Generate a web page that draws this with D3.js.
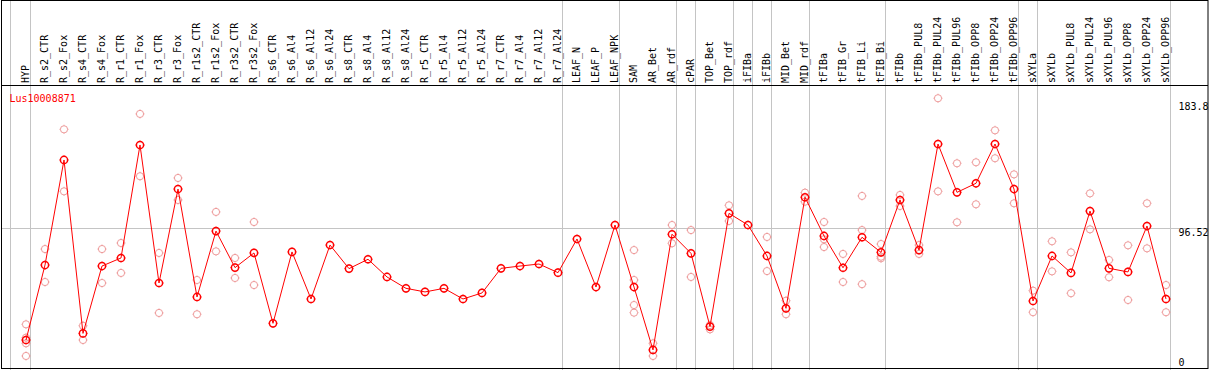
<!DOCTYPE html>
<html><head><meta charset="utf-8">
<script src="https://cdn.jsdelivr.net/npm/d3@7"></script>
<style>body{margin:0;background:#fff}svg{display:block}text{font-family:"DejaVu Sans Mono",monospace;font-size:10px}</style>
</head><body>
<script>
const title = "Lus10008871";
const categories = ["HYP","R_s2_CTR","R_s2_Fox","R_s4_CTR","R_s4_Fox","R_r1_CTR","R_r1_Fox","R_r3_CTR","R_r3_Fox","R_r1s2_CTR","R_r1s2_Fox","R_r3s2_CTR","R_r3s2_Fox","R_s6_CTR","R_s6_Al4","R_s6_Al12","R_s6_Al24","R_s8_CTR","R_s8_Al4","R_s8_Al12","R_s8_Al24","R_r5_CTR","R_r5_Al4","R_r5_Al12","R_r5_Al24","R_r7_CTR","R_r7_Al4","R_r7_Al12","R_r7_Al24","LEAF_N","LEAF_P","LEAF_NPK","SAM","AR_Bet","AR_rdf","cPAR","TOP_Bet","TOP_rdf","iFIBa","iFIBb","MID_Bet","MID_rdf","tFIBa","tFIB_Gr","tFIB_Li","tFIB_Bi","tFIBb","tFIBb_PUL8","tFIBb_PUL24","tFIBb_PUL96","tFIBb_OPP8","tFIBb_OPP24","tFIBb_OPP96","sXYLa","sXYLb","sXYLb_PUL8","sXYLb_PUL24","sXYLb_PUL96","sXYLb_OPP8","sXYLb_OPP24","sXYLb_OPP96"];
const means = [18.9,71.0,144.0,23.5,70.3,75.9,154.4,58.5,123.8,48.8,94.6,69.2,79.4,30.5,80.1,47.4,84.9,68.5,75.0,62.7,54.8,52.3,54.8,47.4,51.6,68.7,70.3,71.7,65.7,89.1,55.7,98.8,55.7,12.0,92.4,79.1,28.2,106.9,98.8,77.3,40.9,118.1,91.2,69.1,90.3,79.8,116.2,81.4,155.1,121.5,127.8,155.1,123.8,46.0,77.3,65.5,108.5,68.7,66.2,98.1,47.4];
const replicates = [[29.8,20.5,16.6,7.8],[82.1,59.2],[165.3,122.2],[28.8,18.9],[82.1,58.5],[86.3,65.5],[176.0,132.7],[79.4,37.7],[131.5,116.2],[60.6,36.8],[107.9,80.5],[75.9,62.0],[100.9,57.1],
[],[],[],[],[],[],[],[],[],[],[],[],[],[],[],[],[],[],[],
[81.4,60.6,43.2,37.9],[16.6,7.8],[98.8,86.1],[95.3,62.7],[29.3,26.3],[112.5,101.6],[],[90.5,66.8],[46.2,36.8],[121.3,115.0],[100.9,88.9,83.5],[78.7,59.2],[119.0,95.3,57.7],[85.6,76.8,75.7],[119.7,112.0],[84.9,78.7],[186.9,122.2],[141.7,100.7],[142.4,113.2],[164.6,145.2],[134.0,113.9],[53.2,38.2],[87.5,66.6],[79.8,51.4],[120.8,95.8],[74.5,62.5],[84.7,46.7],[113.9,82.6],[57.1,38.2]];
const groupEnds = ["HYP","R_r7_Al24","LEAF_NPK","AR_rdf","cPAR","TOP_rdf","iFIBa","iFIBb","MID_rdf","tFIB_Bi","tFIBb_OPP96","sXYLa","sXYLb_OPP96"];
const yTicks = [183.8, 96.52, 0];
const gridValue = 96.52;

const W = 1209, H = 370;
const svg = d3.select("body").append("svg").attr("width", W).attr("height", H);
const x = d3.scaleBand().domain(categories).range([16.5, 16.5 + 19 * categories.length]);
const cx = c => x(c) + x.bandwidth() / 2;
const y = d3.scaleLinear().domain([0, 183.8]).range([367.2, 102.7]);
const grid = "#c4c4c4";

// vertical group separators
const seps = [cx(categories[0]) - 15.5].concat(groupEnds.map(c => Math.round(cx(c) + 4) + 0.5));
svg.selectAll("line.vs").data(seps).join("line")
  .attr("x1", d => d).attr("x2", d => d).attr("y1", 0).attr("y2", H)
  .attr("stroke", grid).attr("stroke-width", 1);
// horizontal grid
const gy = Math.round(y(gridValue)) + 0.5;
svg.append("line").attr("x1", 2).attr("x2", 1208).attr("y1", gy).attr("y2", gy)
  .attr("stroke", grid).attr("stroke-width", 1);

// frame
svg.append("rect").attr("x", 1.5).attr("y", 0.5).attr("width", 1206.5).attr("height", 368)
  .attr("fill", "none").attr("stroke", "#000").attr("stroke-width", 1);
svg.append("line").attr("x1", 1).attr("x2", 1208).attr("y1", 85.5).attr("y2", 85.5)
  .attr("stroke", "#000").attr("stroke-width", 1);

// header labels
svg.selectAll("text.cat").data(categories).join("text")
  .attr("transform", c => `translate(${cx(c) + 3},83) rotate(-90)`)
  .attr("fill", "#000").text(c => c);

// y labels
svg.selectAll("text.yl").data(yTicks).join("text")
  .attr("x", 1178.5).attr("y", d => Math.min(y(d), 358) + 7.6)
  .attr("fill", "#000").text(d => d);

// title
svg.append("text").attr("x", 9.5).attr("y", 101.5).attr("fill", "#ff0000").text(title);

function marker(g, r, color, sw) {
  g.append("circle").attr("r", r).attr("fill", "none").attr("stroke", color).attr("stroke-width", sw);
  [[0,-1],[0,1],[-1,0],[1,0]].forEach(([a,b]) => {
    g.append("line").attr("x1", a * r).attr("y1", b * r)
      .attr("x2", a * (r + 1)).attr("y2", b * (r + 1))
      .attr("stroke", color).attr("stroke-width", 0.8);
  });
}

// replicates
const repData = [];
replicates.forEach((arr, i) => arr.forEach(v => repData.push({c: categories[i], v})));
svg.selectAll("g.rep").data(repData).join("g")
  .attr("transform", d => `translate(${cx(d.c)},${y(d.v)})`)
  .each(function() { marker(d3.select(this), 3.6, "#ee9a9a", 1); });

// mean line
const line = d3.line().x((d, i) => cx(categories[i])).y(d => y(d));
svg.append("path").datum(means).attr("d", line).attr("fill", "none")
  .attr("stroke", "#ff0000").attr("stroke-width", 1);

svg.selectAll("g.mean").data(means).join("g")
  .attr("transform", (d, i) => `translate(${cx(categories[i])},${y(d)})`)
  .each(function() { marker(d3.select(this), 3.6, "#ff0000", 1.5); });
</script>
</body></html>
